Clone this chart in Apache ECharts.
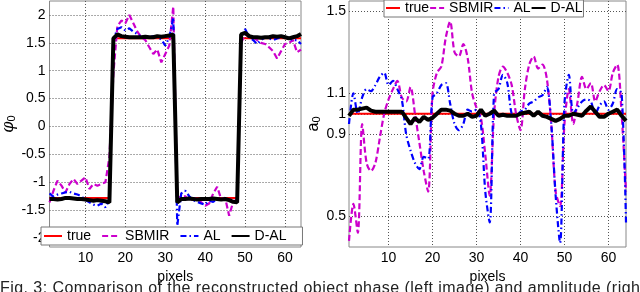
<!DOCTYPE html>
<html><head><meta charset="utf-8">
<script src="https://cdn.jsdelivr.net/npm/echarts@6/dist/echarts.min.js"></script>
<style>html,body{margin:0;padding:0;background:#fff;overflow:hidden}#wrap{position:relative;width:640px;height:292px;overflow:hidden}#c{width:640px;height:292px}
#cap{position:absolute;left:0;top:280px;width:700px;white-space:nowrap;font:16px/16px 'Liberation Sans',Arial,sans-serif;letter-spacing:0.45px;color:#222}</style>
</head><body><div id="wrap"><div id="c"></div><div id="cap"></div></div>
<script>
const pixels = [1,2,3,4,5,6,7,8,9,10,11,12,13,14,15,16,17,18,19,20,21,22,23,24,25,26,27,28,29,30,31,32,33,34,35,36,37,38,39,40,41,42,43,44,45,46,47,48,49,50,51,52,53,54,55,56,57,58,59,60,61,62,63,64];
const seriesNames = ['true','SBMIR','AL','D-AL'];
const xTicks = [10,20,30,40,50,60];
const phaseTicks = [-2,-1.5,-1,-0.5,0,0.5,1,1.5,2];
const ampTicks = [0.5,0.9,1,1.1,1.5];

// Phase (left)
const phaseTrue = [-1.28,-1.28,-1.28,-1.28,-1.28,-1.28,-1.28,-1.28,-1.28,-1.28,-1.28,-1.28,-1.28,-1.28,-1.28,-1.28,
 1.58,1.58,1.58,1.58,1.58,1.58,1.58,1.58,1.58,1.58,1.58,1.58,1.58,1.58,1.58,1.58,
 -1.28,-1.28,-1.28,-1.28,-1.28,-1.28,-1.28,-1.28,-1.28,-1.28,-1.28,-1.28,-1.28,-1.28,-1.28,-1.28,
 1.58,1.58,1.58,1.58,1.58,1.58,1.58,1.58,1.58,1.58,1.58,1.58,1.58,1.58,1.58,1.58];
const phaseSBMIR = [-1.36,-1.15,-0.97,-1.06,-1.18,-1.03,-0.94,-1.03,-0.97,-0.91,-1.12,-1.03,-1.06,-1.03,-1.0,-0.55,
 0.95,1.8,1.9,1.85,2.0,1.85,1.7,1.6,1.55,1.42,1.3,1.38,1.15,1.3,1.45,2.15,
 -1.3,-1.25,-1.25,-1.33,-1.3,-1.28,-1.36,-1.42,-1.38,-1.2,-1.08,-1.3,-1.28,-1.6,-1.35,-1.3,
 1.5,1.65,1.62,1.6,1.55,1.5,1.48,1.42,1.35,1.22,1.35,1.48,1.5,1.55,1.33,1.38];
const phaseAL = [-1.2,-1.26,-1.22,-1.2,-1.18,-1.17,-1.2,-1.22,-1.25,-1.32,-1.36,-1.4,-1.42,-1.38,-1.45,-1.3,
 1.55,1.75,1.78,1.72,1.76,1.7,1.66,1.6,1.58,1.6,1.62,1.6,1.56,1.45,1.6,1.95,
 -1.78,-1.2,-1.15,-1.25,-1.32,-1.35,-1.38,-1.4,-1.33,-1.35,-1.3,-1.32,-1.3,-1.3,-1.33,-1.35,
 1.6,1.75,1.6,1.55,1.48,1.55,1.6,1.58,1.55,1.58,1.6,1.62,1.58,1.55,1.55,1.48];
const phaseDAL = [-1.3,-1.3,-1.31,-1.3,-1.28,-1.28,-1.29,-1.3,-1.3,-1.31,-1.32,-1.33,-1.32,-1.33,-1.34,-1.36,
 1.58,1.65,1.62,1.61,1.6,1.6,1.6,1.6,1.61,1.6,1.6,1.62,1.61,1.62,1.63,1.65,
 -1.36,-1.3,-1.3,-1.29,-1.3,-1.31,-1.3,-1.3,-1.3,-1.29,-1.3,-1.31,-1.3,-1.32,-1.35,-1.36,
 1.65,1.68,1.62,1.6,1.6,1.59,1.6,1.6,1.62,1.61,1.62,1.6,1.58,1.6,1.62,1.66];

// Amplitude (right)
const ampTrue = [1,1,1,1,1,1,1,1,1,1,1,1,1,1,1,1,1,1,1,1,1,1,1,1,1,1,1,1,1,1,1,1,1,1,1,1,1,1,1,1,1,1,1,1,1,1,1,1,1,1,1,1,1,1,1,1,1,1,1,1,1,1,1,1];
const ampSBMIR = [0.38,0.56,0.42,0.95,0.76,0.72,0.76,0.88,1.0,1.07,1.12,1.16,1.08,1.06,1.13,1.0,
 0.86,0.72,0.62,1.1,1.2,1.23,1.37,1.45,1.3,1.28,1.34,1.27,1.1,1.03,0.98,0.8,
 0.6,1.0,1.18,1.23,1.2,1.14,1.0,0.92,1.12,1.24,1.28,1.22,1.24,1.17,0.95,0.62,
 0.55,0.95,1.12,0.95,1.06,1.18,1.12,1.15,1.06,1.11,1.14,1.11,1.2,1.24,1.0,0.62];
const ampAL = [0.95,1.1,1.0,1.08,1.12,1.11,1.14,1.18,1.2,1.14,1.16,1.12,1.07,0.9,0.82,0.76,
 0.73,0.79,0.78,1.08,1.1,1.14,1.15,1.05,0.95,0.92,0.95,1.02,1.01,1.02,0.95,0.62,
 0.47,1.1,1.12,1.19,1.15,1.0,0.99,1.01,1.02,1.05,1.06,1.08,1.09,1.13,0.95,0.6,
 0.37,1.05,1.19,1.0,1.03,1.06,1.07,1.06,1.0,1.04,1.06,1.02,1.05,1.12,1.1,0.47];
const ampDAL = [0.99,1.02,1.02,1.025,1.03,1.015,1.01,1.01,1.01,1.01,1.01,1.01,1.01,0.98,0.95,0.98,
 0.96,0.985,0.97,0.98,1.0,1.02,1.02,1.015,1.0,0.99,0.99,1.0,0.985,0.99,1.02,0.99,
 1.0,1.015,0.99,0.995,0.99,0.99,0.99,1.0,1.005,1.01,0.99,1.01,0.99,0.985,0.975,0.965,
 0.975,0.99,0.99,1.0,0.995,0.99,1.015,1.035,1.01,0.985,0.985,1.0,1.01,1.02,0.99,0.965];

const caption = 'Fig. 3: Comparison of the reconstructed object phase (left image) and amplitude (right image) of';
document.getElementById('cap').textContent = caption;

const pair = v => pixels.map((p, i) => [p, v[i]]);
const FONT = 'Liberation Sans, Arial, Helvetica, sans-serif';
const styles = [
  {color: '#ff0000', width: 2, type: 'solid'},
  {color: '#cc00cc', width: 2.2, type: [6, 3]},
  {color: '#0000ff', width: 2.2, type: [6, 3, 1.5, 3]},
  {color: '#000000', width: 4, type: 'solid'}
];
function mkSeries(idx, vals, smooth) {
  return vals.map((v, k) => ({
    name: seriesNames[k], type: 'line', xAxisIndex: idx, yAxisIndex: idx,
    data: pair(v), symbol: 'none', smooth: smooth && (k === 1 || k === 2) ? 0.3 : false,
    lineStyle: {color: styles[k].color, width: styles[k].width, type: styles[k].type},
    itemStyle: {color: styles[k].color}, animation: false, z: 2 + k
  }));
}
const xAx = (gi) => ({
  type: 'value', gridIndex: gi, min: 1, max: 64,
  name: 'pixels', nameLocation: 'middle', nameGap: 14,
  nameTextStyle: {fontFamily: FONT, fontSize: 14, color: '#000'},
  axisLine: {show: false, onZero: false}, axisTick: {show: false, customValues: xTicks},
  axisLabel: {customValues: xTicks, fontFamily: FONT, fontSize: 14, color: '#000', margin: 4},
  splitLine: {show: true, lineStyle: {color: '#555', type: [1, 2], width: 1}}
});
const legendCommon = {
  orient: 'horizontal', data: seriesNames, itemHeight: 10,
  borderColor: '#777', borderWidth: 1, backgroundColor: '#fff', borderRadius: 0,
  itemStyle: {opacity: 0, borderWidth: 0},
  textStyle: {fontFamily: FONT, fontSize: 14, color: '#000'}, selectedMode: false
};
const chart = echarts.init(document.getElementById('c'), null, {renderer: 'canvas'});
chart.setOption({
  animation: false,
  backgroundColor: '#fff',
  grid: [
    {left: 39, top: 1, width: 262, height: 246, show: true, borderColor: '#888', borderWidth: 1, backgroundColor: 'transparent'},
    {left: 349, top: 1, width: 277, height: 246, show: true, borderColor: '#888', borderWidth: 1, backgroundColor: 'transparent'}
  ],
  xAxis: [xAx(0), xAx(1)],
  yAxis: [
    {type: 'value', gridIndex: 0, min: -2.16, max: 2.25,
     name: '{a|φ}{b|0}', nameLocation: 'middle', nameGap: 25, nameRotate: 90,
     nameTextStyle: {rich: {a: {fontFamily: 'DejaVu Serif', fontStyle: 'italic', fontSize: 16, color: '#000'}, b: {fontFamily: FONT, fontSize: 11, color: '#000', padding: [6, 0, 0, 0]}}},
     axisLine: {show: false, onZero: false}, axisTick: {show: false, customValues: phaseTicks},
     axisLabel: {customValues: phaseTicks, fontFamily: FONT, fontSize: 14, color: '#000', margin: 4},
     splitLine: {show: true, lineStyle: {color: '#555', type: [1, 2], width: 1}}},
    {type: 'value', gridIndex: 1, min: 0.35, max: 1.55,
     name: '{a|a}{b|0}', nameLocation: 'middle', nameGap: 27, nameRotate: 90,
     nameTextStyle: {rich: {a: {fontFamily: FONT, fontSize: 16, color: '#000'}, b: {fontFamily: FONT, fontSize: 11, color: '#000', padding: [6, 0, 0, 0]}}},
     axisLine: {show: false, onZero: false}, axisTick: {show: false, customValues: ampTicks},
     axisLabel: {customValues: ampTicks, fontFamily: FONT, fontSize: 14, color: '#000', margin: 3},
     splitLine: {show: true, lineStyle: {color: '#555', type: [1, 2], width: 1}}}
  ],
  legend: [
    Object.assign({}, legendCommon, {left: 41, top: 227, itemWidth: 18, itemGap: 10, padding: [2, 16, 2, 2]}),
    Object.assign({}, legendCommon, {left: 384, top: 0, itemWidth: 14, itemGap: 0, padding: [1, 1, 2, 1]})
  ],
  series: [].concat(mkSeries(0, [phaseTrue, phaseSBMIR, phaseAL, phaseDAL], false),
                    mkSeries(1, [ampTrue, ampSBMIR, ampAL, ampDAL], true))
});
</script></body></html>
